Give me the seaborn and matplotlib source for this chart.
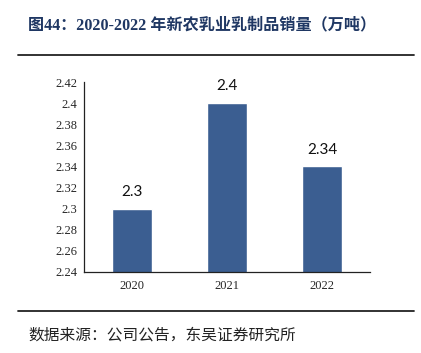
import seaborn as sns
import matplotlib.pyplot as plt
import pandas as pd
from matplotlib.lines import Line2D

years = ["2020", "2021", "2022"]
sales = [2.30, 2.40, 2.34]
bar_labels = ["2.3", "2.4", "2.34"]
y_ticks = [2.24, 2.26, 2.28, 2.30, 2.32, 2.34, 2.36, 2.38, 2.40, 2.42]
y_tick_labels = ["2.24", "2.26", "2.28", "2.3", "2.32", "2.34", "2.36", "2.38", "2.4", "2.42"]

title = "图44：2020-2022 年新农乳业乳制品销量（万吨）"
source = "数据来源：公司公告，东吴证券研究所"

sns.set_style("white")
plt.rcParams["font.family"] = ["Noto Sans CJK SC", "DejaVu Sans"]

df = pd.DataFrame({"year": years, "sales": sales})

fig = plt.figure(figsize=(4.21, 3.53), dpi=100)
ax = fig.add_axes([0.1995, 0.2295, 0.6795, 0.5382])
sns.barplot(data=df, x="year", y="sales", color="#3B5E91", width=0.42, saturation=1, ax=ax)

ax.set_ylim(2.24, 2.42)
ax.set_xlim(-0.5, 2.5)
ax.set_yticks(y_ticks)
ax.set_yticklabels(y_tick_labels, family="Liberation Serif", fontsize=9)
ax.set_xticks([0, 1, 2])
ax.set_xticklabels(years, family="Liberation Serif", fontsize=9)
ax.set_xticks([-0.5, 0.5, 1.5, 2.5], minor=True)
ax.tick_params(axis="x", which="major", length=0, pad=6)
ax.tick_params(axis="x", which="minor", length=3, width=0.8, direction="out", color="#333333")
ax.tick_params(axis="y", length=3, width=0.8, direction="out", color="#333333", pad=2)
ax.set_xlabel("")
ax.set_ylabel("")
for side in ["top", "right"]:
    ax.spines[side].set_visible(False)
for side in ["left", "bottom"]:
    ax.spines[side].set_color("#222222")
    ax.spines[side].set_linewidth(0.9)

for i, (v, lab) in enumerate(zip(sales, bar_labels)):
    ax.annotate(lab, (i, v), xytext=(0, 7), textcoords="offset points",
                ha="center", va="bottom", fontsize=11, family="Lato", color="#111111")

fig.text(28 / 421, 1 - 25 / 353, title, fontsize=11.6, fontweight="bold",
         color="#1F3763", ha="left", va="center",
         family=["Liberation Serif", "Noto Sans CJK SC"])
fig.add_artist(Line2D([18 / 421, 414 / 421], [1 - 55 / 353, 1 - 55 / 353],
                      color="#222222", lw=1.3, transform=fig.transFigure))
fig.add_artist(Line2D([18 / 421, 414 / 421], [1 - 311 / 353, 1 - 311 / 353],
                      color="#222222", lw=1.3, transform=fig.transFigure))
fig.text(28 / 421, 1 - 335 / 353, source, fontsize=11.3, color="#222222",
         ha="left", va="center")

fig.savefig("out.png", dpi=100)
